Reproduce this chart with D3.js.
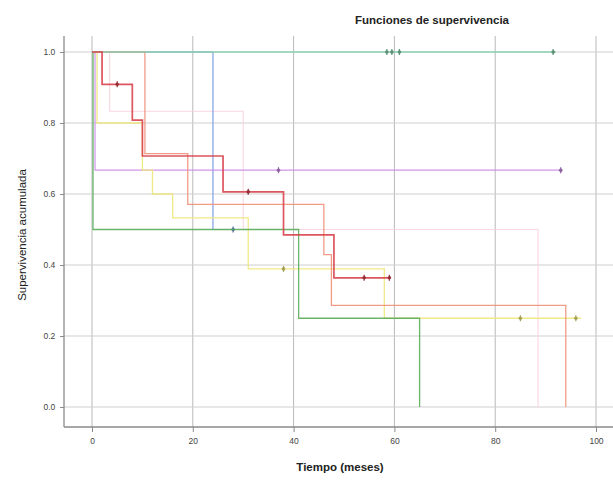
<!DOCTYPE html>
<html>
<head>
<meta charset="utf-8">
<script src="https://cdn.jsdelivr.net/npm/d3@7"></script>
<style>
  html, body { margin: 0; padding: 0; background: #fff; }
  svg { display: block; font-family: Arial, "Liberation Sans", sans-serif; }
</style>
</head>
<body>
<svg id="chart" width="613" height="481"></svg>
<script>
// Kaplan–Meier step curves: event times (months) and cumulative survival
const tiempoRojo = [0, 2, 8, 10, 26, 38, 48, 59];
const survRojo   = [1, 0.909, 0.808, 0.707, 0.606, 0.485, 0.364, 0.364];
const censRojo   = [[5, 0.909], [31, 0.606], [54, 0.364], [59, 0.364]];

const tiempoNaranja = [0, 10.5, 19, 46, 47.5, 94, 94];
const survNaranja   = [1, 0.714, 0.571, 0.429, 0.286, 0.286, 0];
const censNaranja   = [];

const tiempoAmarillo = [0, 1, 10, 12, 16, 31, 58, 97];
const survAmarillo   = [1, 0.8, 0.667, 0.6, 0.533, 0.389, 0.25, 0.25];
const censAmarillo   = [[38, 0.389], [85, 0.25], [96, 0.25]];

const tiempoMorado = [0, 0.6, 93];
const survMorado   = [1, 0.667, 0.667];
const censMorado   = [[37, 0.667], [93, 0.667]];

const tiempoAzul = [0, 24, 28];
const survAzul   = [1, 0.5, 0.5];
const censAzul   = [[28, 0.5]];

const tiempoVerde = [0, 0.2, 41, 65, 65];
const survVerde   = [1, 0.5, 0.25, 0.25, 0];
const censVerde   = [];

const tiempoTurquesa = [0, 92];
const survTurquesa   = [1, 1];
const censTurquesa   = [[58.5, 1], [59.5, 1], [61, 1], [91.5, 1]];

const tiempoRosa = [0, 3.5, 30, 88.5, 88.5];
const survRosa   = [1, 0.833, 0.5, 0.5, 0];
const censRosa   = [];

const xTicks = [0, 20, 40, 60, 80, 100];
const yTicks = [0, 0.2, 0.4, 0.6, 0.8, 1.0];
const yTickLabels = ["0.0", "0.2", "0.4", "0.6", "0.8", "1.0"];

// drawing order: later curves sit on top
const series = [
  { t: tiempoRosa, s: survRosa, c: censRosa, color: "#f9d3dc", w: 1.1 },
  { t: tiempoAzul, s: survAzul, c: censAzul, color: "#7397e6", w: 1.2 },
  { t: tiempoMorado, s: survMorado, c: censMorado, color: "#c98ae8", w: 1.2 },
  { t: tiempoAmarillo, s: survAmarillo, c: censAmarillo, color: "#eee77a", w: 1.3 },
  { t: tiempoVerde, s: survVerde, c: censVerde, color: "#5aad5a", w: 1.3 },
  { t: tiempoNaranja, s: survNaranja, c: censNaranja, color: "#f0907a", w: 1.3 },
  { t: tiempoTurquesa, s: survTurquesa, c: censTurquesa, color: "#84cfa8", w: 1.6 },
  { t: tiempoRojo, s: survRojo, c: censRojo, color: "#d8424e", w: 1.7 }
];

const svg = d3.select("#chart");

const x = d3.scaleLinear().domain([0, 100]).range([92, 596]);
const y = d3.scaleLinear().domain([0, 1]).range([407, 52]);

const plotLeft = 64, plotRight = 613, plotTop = 36, plotBottom = 427;

// grid
const grid = svg.append("g");
grid.selectAll("line.v").data(xTicks).join("line").attr("class", "v")
  .attr("x1", d => x(d)).attr("x2", d => x(d))
  .attr("y1", plotTop).attr("y2", plotBottom)
  .attr("stroke", "#b9b9b9").attr("stroke-width", 1);
grid.selectAll("line.h").data(yTicks).join("line").attr("class", "h")
  .attr("x1", plotLeft).attr("x2", plotRight)
  .attr("y1", d => y(d)).attr("y2", d => y(d))
  .attr("stroke", "#cfcfcf").attr("stroke-width", 1.2);

// curves
const line = d3.line()
  .x(d => x(d[0])).y(d => y(d[1]))
  .curve(d3.curveStepAfter);

const curves = svg.append("g").attr("fill", "none");
series.forEach(sr => {
  const pts = sr.t.map((t, i) => [t, sr.s[i]]);
  curves.append("path")
    .attr("d", line(pts))
    .attr("stroke", sr.color)
    .attr("stroke-width", sr.w)
    .attr("stroke-opacity", 0.9);
  sr.c.forEach(p => {
    curves.append("line")
      .attr("x1", x(p[0])).attr("x2", x(p[0]))
      .attr("y1", y(p[1]) - 3).attr("y2", y(p[1]) + 3)
      .attr("stroke", d3.color(sr.color).darker(1))
      .attr("stroke-width", 1.2);
    curves.append("circle")
      .attr("cx", x(p[0])).attr("cy", y(p[1])).attr("r", 1.8)
      .attr("fill", d3.color(sr.color).darker(1));
  });
});

// axes
const xAxis = d3.axisBottom(x).tickValues(xTicks).tickSize(5).tickSizeOuter(0);
const gx = svg.append("g").attr("transform", `translate(0,${plotBottom})`).call(xAxis);
gx.select(".domain").remove();
gx.append("line").attr("x1", plotLeft).attr("x2", plotRight).attr("y1", 0).attr("y2", 0)
  .attr("stroke", "#8a8a8a").attr("stroke-width", 1.3);
gx.selectAll(".tick line").attr("stroke", "#8a8a8a");
gx.selectAll(".tick text").attr("fill", "#444").attr("font-size", 8.5).attr("dy", "1.1em");

const yAxis = d3.axisLeft(y).tickValues(yTicks).tickSize(4)
  .tickFormat((d, i) => yTickLabels[i]);
const gy = svg.append("g").attr("transform", `translate(${plotLeft},0)`).call(yAxis);
gy.select(".domain").remove();
gy.append("line").attr("x1", 0).attr("x2", 0).attr("y1", plotTop).attr("y2", plotBottom)
  .attr("stroke", "#8a8a8a").attr("stroke-width", 1.3);
gy.selectAll(".tick line").attr("stroke", "#8a8a8a");
gy.selectAll(".tick text").attr("fill", "#444").attr("font-size", 8.5).attr("dx", "-0.2em");

// titles
svg.append("text").attr("x", 432).attr("y", 24).attr("text-anchor", "middle")
  .attr("font-size", 11.5).attr("font-weight", "bold").attr("fill", "#222")
  .text("Funciones de supervivencia");
svg.append("text").attr("x", 340).attr("y", 471).attr("text-anchor", "middle")
  .attr("font-size", 11.5).attr("font-weight", "bold").attr("fill", "#222")
  .text("Tiempo (meses)");
svg.append("text").attr("transform", "translate(26,235) rotate(-90)")
  .attr("text-anchor", "middle").attr("font-size", 11.5).attr("fill", "#222")
  .text("Supervivencia acumulada");
</script>
</body>
</html>
